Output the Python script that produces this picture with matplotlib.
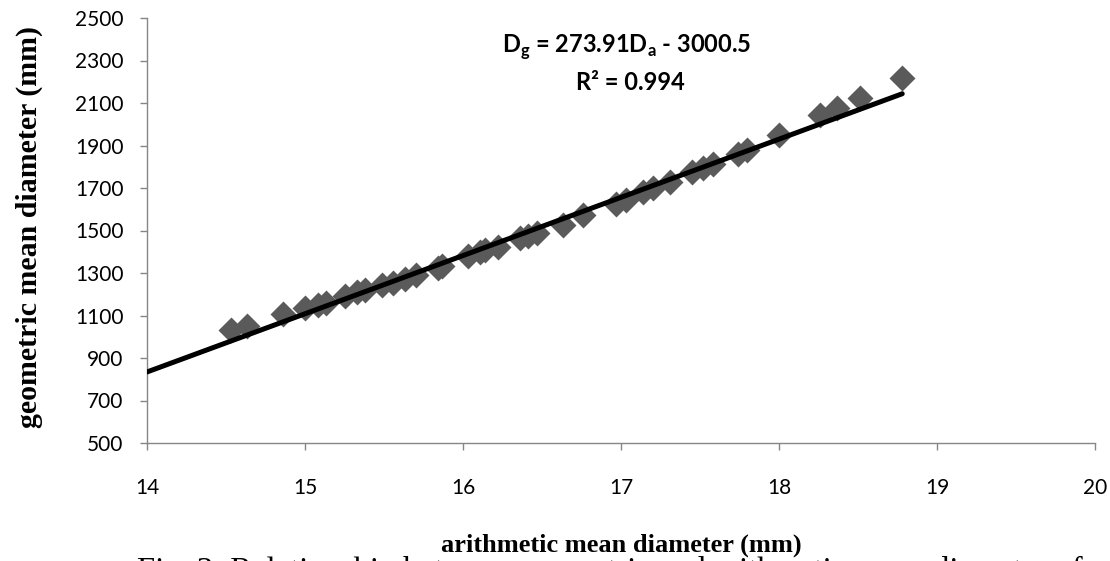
import matplotlib
matplotlib.use("Agg")
import matplotlib.pyplot as plt
import numpy as np

# Data
arith_mean = [14.53, 14.63, 14.86, 15.00, 15.08, 15.13, 15.25, 15.33, 15.38, 15.49,
              15.56, 15.63, 15.70, 15.84, 15.87, 16.03, 16.11, 16.14, 16.22, 16.36,
              16.41, 16.47, 16.63, 16.76, 16.97, 17.03, 17.14, 17.20, 17.31, 17.45,
              17.52, 17.58, 17.74, 17.80, 18.00, 18.26, 18.37, 18.51, 18.78]
geom_mean = [1032, 1050, 1105, 1135, 1150, 1158, 1192, 1210, 1222, 1243,
             1255, 1272, 1291, 1324, 1332, 1378, 1400, 1410, 1422, 1465,
             1472, 1490, 1528, 1572, 1625, 1645, 1680, 1698, 1730, 1773,
             1792, 1812, 1862, 1880, 1948, 2042, 2076, 2122, 2218]
slope = 273.91
intercept = -3000.5
trend_start = 14.0
x_ticks = [14, 15, 16, 17, 18, 19, 20]
y_ticks = [500, 700, 900, 1100, 1300, 1500, 1700, 1900, 2100, 2300, 2500]

W, H = 1110, 561
fig = plt.figure(figsize=(W / 100, H / 100), dpi=100)
ax = fig.add_axes([147 / W, 1 - 443 / H, (1095 - 147) / W, (443 - 18) / H])

ax.scatter(arith_mean, geom_mean, marker="D", s=175, color="#5a5a5a", zorder=2,
           linewidths=0)
tx = np.array([trend_start, max(arith_mean)])
ax.plot(tx, slope * tx + intercept, color="black", lw=3.6, zorder=3,
        solid_capstyle="round")

ax.set_xlim(14, 20)
ax.set_ylim(500, 2500)
ax.set_xticks(x_ticks)
ax.set_yticks(y_ticks)

gray = "#868686"
for s in ["top", "right"]:
    ax.spines[s].set_visible(False)
for s in ["left", "bottom"]:
    ax.spines[s].set_color(gray)
    ax.spines[s].set_linewidth(1.0)

ax.tick_params(axis="both", direction="out", length=5, width=1.0, color=gray,
               labelsize=15, labelcolor="black")
ax.tick_params(axis="x", pad=20)
ax.tick_params(axis="y", pad=12)
for lab in ax.get_xticklabels() + ax.get_yticklabels():
    lab.set_fontfamily("Lato")

# Axis labels (bold serif)
fig.text(621 / W, 1 - 552 / H, "arithmetic mean diameter (mm)", ha="center",
         va="baseline", fontsize=19, fontweight="bold", family="Liberation Serif")
fig.text(29 / W, 1 - 227 / H, "geometric mean diameter (mm)", ha="center",
         va="center", rotation=90, fontsize=21.5, fontweight="bold",
         family="Liberation Serif")

# Equation
fig.text(627 / W, 1 - 53 / H,
         r"D$_\mathregular{g}$ = 273.91D$_\mathregular{a}$ - 3000.5",
         ha="center", va="baseline", fontsize=17, fontweight="bold", family="Lato")
fig.text(630 / W, 1 - 90 / H, "R² = 0.994", ha="center", va="baseline",
         fontsize=17, fontweight="bold", family="Lato")

# Caption (cut off at the bottom of the picture)
fig.text(610 / W, 1 - 556 / H,
         "Fig. 3: Relationship between geometric and arithmetic mean diameter of",
         ha="center", va="top", fontsize=23.5, family="Liberation Serif")

fig.savefig("out.png", dpi=100)
